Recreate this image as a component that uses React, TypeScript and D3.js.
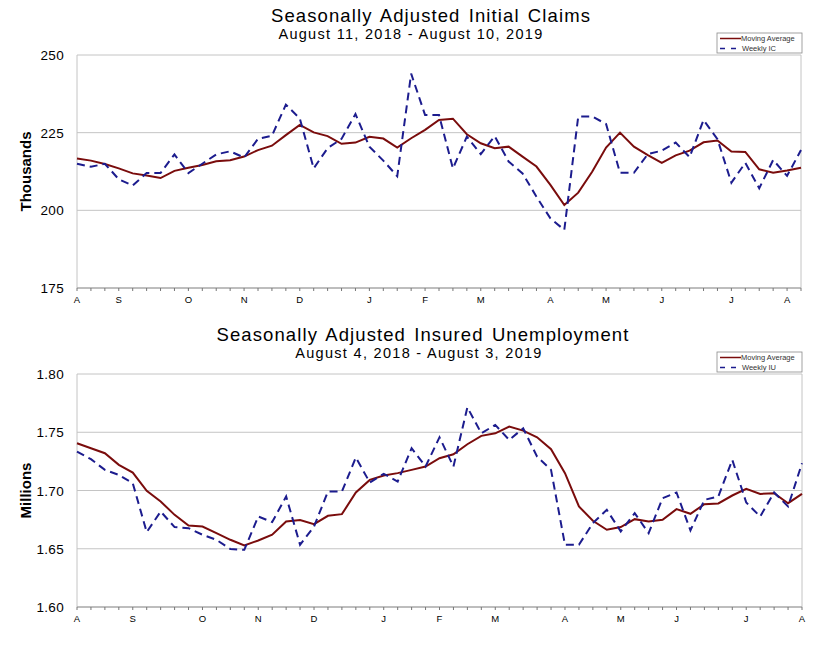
import * as React from 'react';
import * as d3 from 'd3';

// Initial claims, weeks Aug 11 2018 .. Aug 10 2019 (thousands)
const icWeekly = [215, 214, 215, 210, 208, 212, 212, 218, 212, 215, 218, 219, 217, 223, 224, 234, 229.6, 213.5, 220, 223, 231, 220.5, 216, 211,
  244, 230.7, 230.7, 213.5, 223.7, 218.1, 223.9, 215.7, 211.9, 204.4, 197.4, 193.7, 230.2, 230.2, 227.8, 212.1, 212.1, 218.1, 219.2, 221.8,
  217.1, 229.1, 222.9, 208.9, 215.3, 207.1, 216.2, 211.1, 219.4];
const icAverage = [216.7, 216, 214.9, 213.5, 211.9, 211.2, 210.4, 212.7, 213.7, 214.6, 215.8, 216.1, 217.3, 219.4, 220.8, 224.2, 227.5, 225.1,
  223.9, 221.4, 221.8, 223.7, 223.1, 220.2, 223.2, 225.9, 229.1, 229.5, 224.5, 221.6, 220, 220.5, 217.3, 214.1, 208.2, 201.7, 205.7, 212.4,
  220.2, 225, 220.5, 217.8, 215.3, 217.7, 219.2, 221.9, 222.5, 218.9, 218.8, 213.2, 212.1, 212.8, 213.7];
const icMonths = [[0, 'A'], [3, 'S'], [8, 'O'], [12, 'N'], [16, 'D'], [21, 'J'], [25, 'F'], [29, 'M'], [34, 'A'], [38, 'M'], [42, 'J'], [47, 'J'], [51, 'A']];
const icTicks = [175, 200, 225, 250];

// Insured unemployment, weeks Aug 4 2018 .. Aug 3 2019 (millions)
const iuWeekly = [1.7334, 1.7269, 1.7177, 1.7134, 1.7063, 1.6643, 1.682, 1.6686, 1.6677, 1.662, 1.6577, 1.6497, 1.6491, 1.6777, 1.6729, 1.6949,
  1.6534, 1.6691, 1.6991, 1.6991, 1.7283, 1.7069, 1.7143, 1.7077, 1.7363, 1.7206, 1.7457, 1.7206, 1.7714, 1.7491, 1.7563, 1.7434, 1.7534,
  1.7291, 1.7177, 1.6534, 1.6534, 1.672, 1.6834, 1.6649, 1.6806, 1.6634, 1.6934, 1.6983, 1.6657, 1.692, 1.6949, 1.7263, 1.6897, 1.6777,
  1.6983, 1.6863, 1.7234];
const iuAverage = [1.7406, 1.7363, 1.732, 1.722, 1.7154, 1.6997, 1.6906, 1.6791, 1.67, 1.6691, 1.6634, 1.6577, 1.6529, 1.6571, 1.662, 1.6734,
  1.6746, 1.6711, 1.6783, 1.6797, 1.6983, 1.7091, 1.7129, 1.7149, 1.7177, 1.7206, 1.7277, 1.7311, 1.7397, 1.7469, 1.7491, 1.7549, 1.7514,
  1.7457, 1.7354, 1.7149, 1.6863, 1.674, 1.6663, 1.6686, 1.6754, 1.6734, 1.6749, 1.684, 1.68, 1.6883, 1.6889, 1.6957, 1.7014, 1.6971,
  1.6977, 1.6891, 1.6971];
const iuMonths = [[0, 'A'], [4, 'S'], [9, 'O'], [13, 'N'], [17, 'D'], [22, 'J'], [26, 'F'], [30, 'M'], [35, 'A'], [39, 'M'], [43, 'J'], [48, 'J'], [52, 'A']];
const iuTicks = [1.6, 1.65, 1.7, 1.75, 1.8];

const FONT = 'Liberation Sans, Arial, sans-serif';
const RED = '#7a0c0c';
const BLUE = '#1c1c8e';
const GRID = '#c4c4c4';

interface PanelProps {
  top: number;
  bottom: number;
  left: number;
  right: number;
  domain: [number, number];
  ticks: number[];
  fmt: (v: number) => string;
  weekly: number[];
  average: number[];
  months: (string | number)[][];
  title: string;
  subtitle: string;
  titleY: number;
  titleX: number;
  subX: number;
  yLabel: string;
  legendWeekly: string;
  legendTop: number;
}

function Panel(p: PanelProps) {
  const n = p.weekly.length;
  const x = d3.scaleLinear().domain([0, n - 1]).range([p.left, p.right]);
  const y = d3.scaleLinear().domain(p.domain).range([p.bottom, p.top]);
  const line = d3.line<number>().x((_, i) => x(i)).y(d => y(d));
  const lx = 717;
  const lw = 85;
  return (
    <g>
      <text x={p.titleX} y={p.titleY} textAnchor="middle" fontSize={18.5} fontFamily={FONT} letterSpacing={1.1} wordSpacing={2}>{p.title}</text>
      <text x={p.subX} y={p.titleY + 17} textAnchor="middle" fontSize={14.5} fontFamily={FONT} letterSpacing={1.3}>{p.subtitle}</text>
      {p.ticks.map(t => (
        <g key={t}>
          <line x1={p.left} x2={p.right} y1={y(t)} y2={y(t)} stroke={GRID} strokeWidth={1} />
          <text x={64} y={y(t) + 5} textAnchor="end" fontSize={13.5} fontFamily={FONT} letterSpacing={0.3}>{p.fmt(t)}</text>
        </g>
      ))}
      <line x1={p.left} x2={p.left} y1={p.top} y2={p.bottom} stroke={GRID} />
      <line x1={p.right} x2={p.right} y1={p.top} y2={p.bottom} stroke={GRID} />
      <line x1={p.left} x2={p.right} y1={p.bottom} y2={p.bottom} stroke="#9a9a9a" />
      {d3.range(n).map(i => (
        <line key={i} x1={x(i)} x2={x(i)} y1={p.bottom} y2={p.bottom + 3} stroke="#777" />
      ))}
      {p.months.map(([i, m], k) => (
        <text key={k} x={x(i as number)} y={p.bottom + 15} textAnchor="middle" fontSize={9.5} fontFamily={FONT}>{m}</text>
      ))}
      <text transform={`translate(31,${(p.top + p.bottom) / 2}) rotate(-90)`} textAnchor="middle" fontSize={15} fontWeight="bold" fontFamily={FONT}>{p.yLabel}</text>
      <path d={line(p.average) || ''} fill="none" stroke={RED} strokeWidth={2} />
      <path d={line(p.weekly) || ''} fill="none" stroke={BLUE} strokeWidth={2} strokeDasharray="8,5" />
      <rect x={lx} y={p.legendTop} width={lw} height={20} fill="#fff" stroke="#8a8a8a" strokeWidth={0.8} />
      <line x1={lx + 3} x2={lx + 24} y1={p.legendTop + 5.5} y2={p.legendTop + 5.5} stroke={RED} strokeWidth={1.5} />
      <text x={lx + 24} y={p.legendTop + 8} fontSize={7.5} fontFamily={FONT} fill="#333">Moving Average</text>
      <line x1={lx + 3} x2={lx + 24} y1={p.legendTop + 15.5} y2={p.legendTop + 15.5} stroke={BLUE} strokeWidth={1.5} strokeDasharray="5,6" />
      <text x={lx + 25} y={p.legendTop + 18} fontSize={7.5} fontFamily={FONT} fill="#333">{p.legendWeekly}</text>
    </g>
  );
}

export default function App() {
  return (
    <svg width={835} height={645} style={{ position: 'absolute', left: 0, top: 0, background: '#fff' }}>
      <rect width={835} height={645} fill="#fff" />
      <Panel top={55} bottom={288} left={77} right={801} domain={[175, 250]} ticks={icTicks} fmt={d3.format('d')}
        weekly={icWeekly} average={icAverage} months={icMonths}
        title="Seasonally Adjusted Initial Claims" subtitle="August 11, 2018 - August 10, 2019"
        titleY={22} titleX={431} subX={411} yLabel="Thousands" legendWeekly="Weekly IC" legendTop={33} />
      <Panel top={374} bottom={607} left={77} right={802} domain={[1.6, 1.8]} ticks={iuTicks} fmt={d3.format('.2f')}
        weekly={iuWeekly} average={iuAverage} months={iuMonths}
        title="Seasonally Adjusted Insured Unemployment" subtitle="August 4, 2018 - August 3, 2019"
        titleY={341} titleX={423} subX={419} yLabel="Millions" legendWeekly="Weekly IU" legendTop={352} />
    </svg>
  );
}
